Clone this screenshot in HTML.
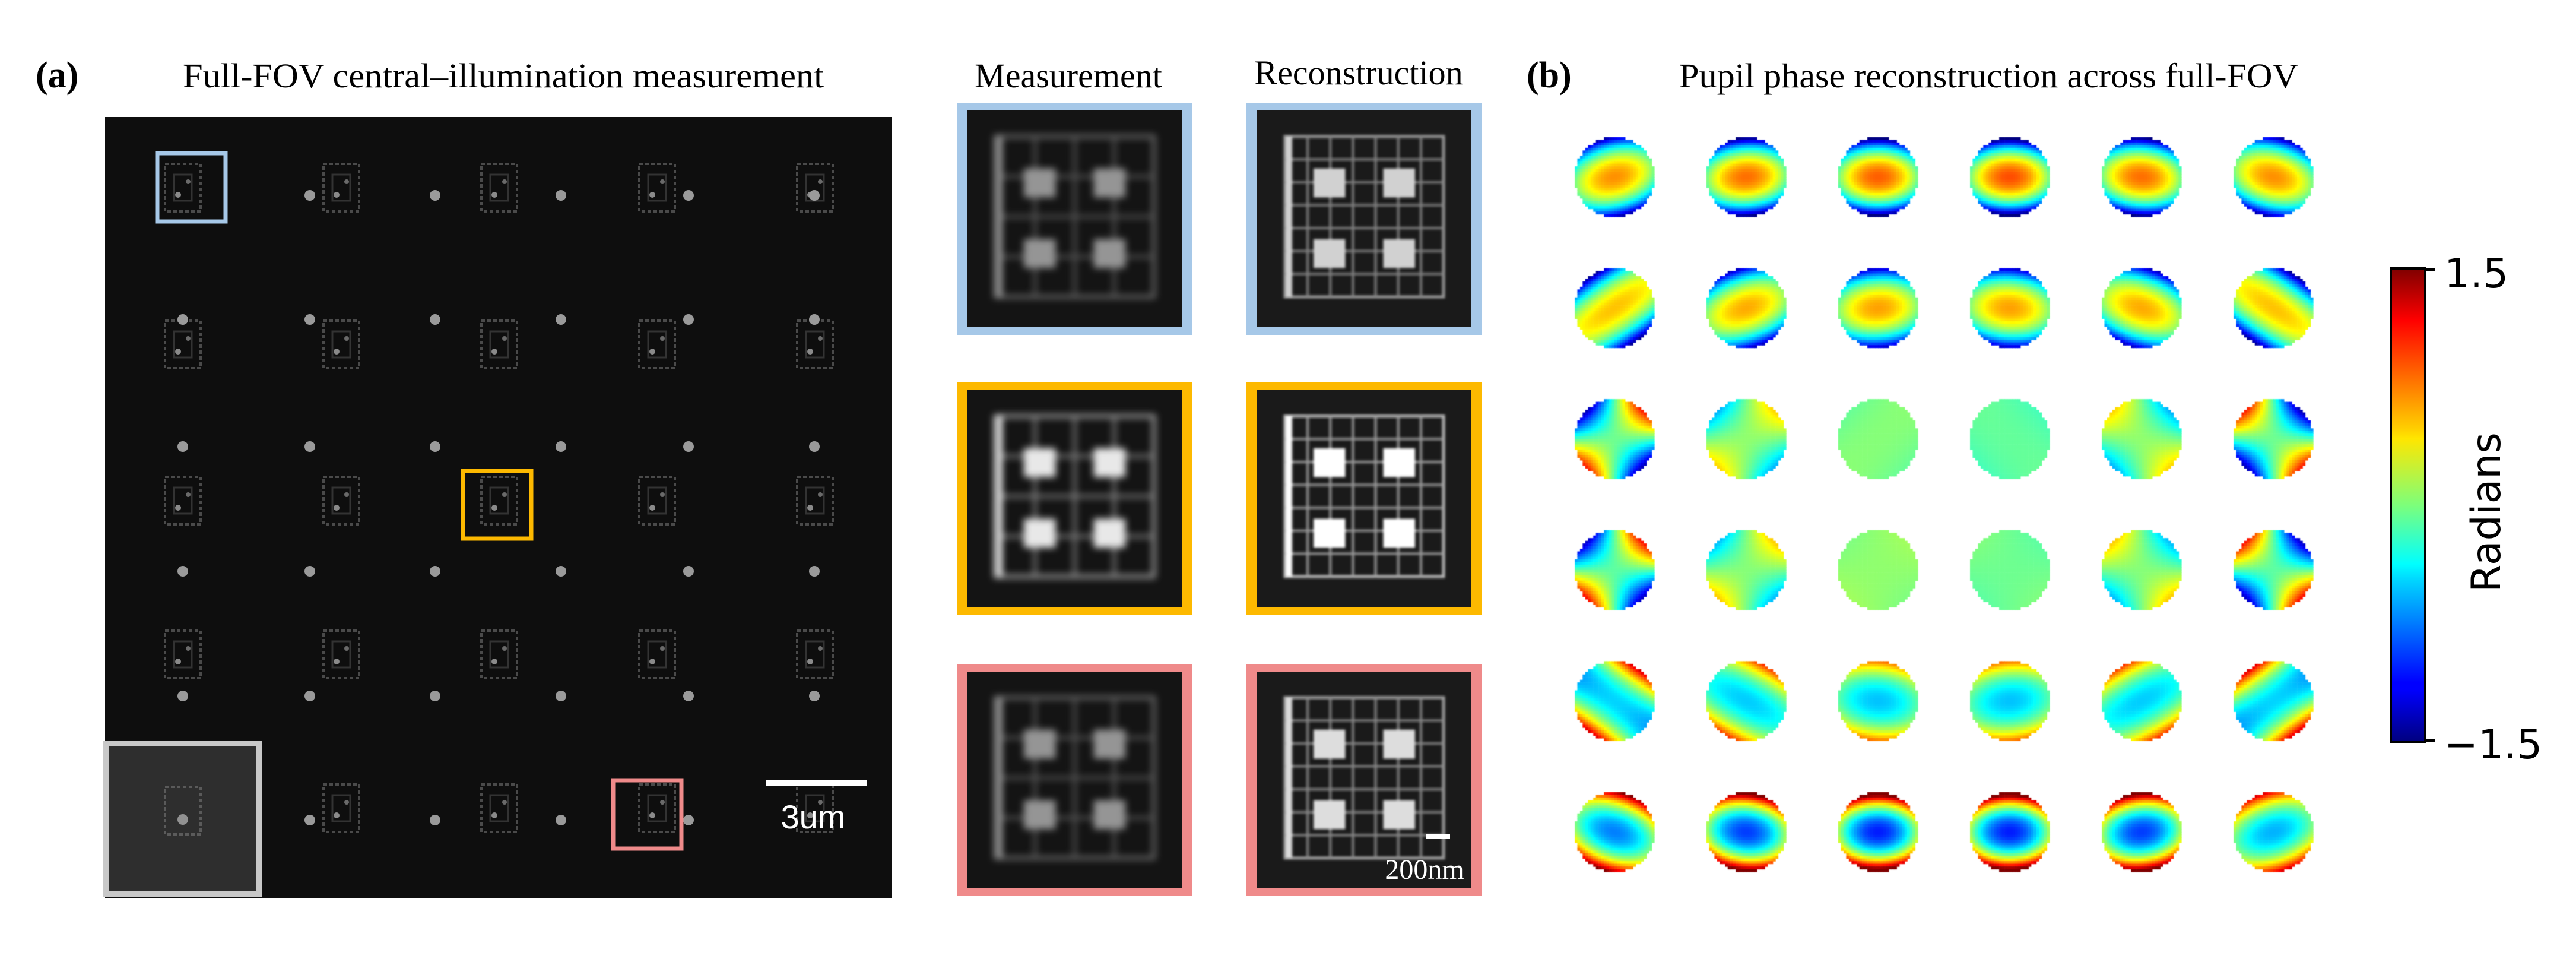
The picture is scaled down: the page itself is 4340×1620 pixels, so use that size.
<!DOCTYPE html>
<html><head><meta charset="utf-8">
<style>
html,body{margin:0;padding:0;background:#fff;}
#root{position:relative;width:4340px;height:1620px;overflow:hidden;}
svg text{font-family:"Liberation Serif",serif;}
</style></head>
<body>
<div id="root">
<svg id="svg" width="4340" height="1620" viewBox="0 0 4340 1620" style="position:absolute;left:0;top:0">
  <defs>
    <filter id="blurM" x="-20%" y="-20%" width="140%" height="140%"><feGaussianBlur stdDeviation="6"/></filter>
    <filter id="blurR" x="-20%" y="-20%" width="140%" height="140%"><feGaussianBlur stdDeviation="2"/></filter>
    <linearGradient id="jet" x1="0" y1="1" x2="0" y2="0">
      <stop offset="0" stop-color="#00007f"/><stop offset="0.11" stop-color="#0000ff"/>
      <stop offset="0.125" stop-color="#0000ff"/><stop offset="0.34" stop-color="#00d4ff"/>
      <stop offset="0.375" stop-color="#00ffff"/><stop offset="0.5" stop-color="#7dff7a"/>
      <stop offset="0.64" stop-color="#ffe600"/><stop offset="0.66" stop-color="#ffd000"/>
      <stop offset="0.89" stop-color="#ff0000"/><stop offset="1" stop-color="#7f0000"/>
    </linearGradient>
  </defs>
  <text x="60" y="147" font-size="62" font-weight="bold">(a)</text>
  <text x="308" y="147" font-size="58" textLength="1080" lengthAdjust="spacingAndGlyphs">Full-FOV central–illumination measurement</text>
  <text x="1800" y="147" font-size="58" text-anchor="middle">Measurement</text>
  <text x="2289" y="142" font-size="58" text-anchor="middle">Reconstruction</text>
  <text x="2572" y="147" font-size="62" font-weight="bold">(b)</text>
  <text x="2829" y="147" font-size="58" textLength="1043" lengthAdjust="spacingAndGlyphs">Pupil phase reconstruction across full-FOV</text>

  <rect x="177" y="197" width="1326" height="1316" fill="#0e0e0e"/>
  <g id="fov"></g>
  <rect x="178" y="1252" width="258" height="254" fill="#2e2e2e" stroke="#c8c8c8" stroke-width="10"/>
  <g id="inset"></g>
  <rect x="265" y="258" width="115" height="115" fill="none" stroke="#a6c8e8" stroke-width="7"/>
  <rect x="780" y="793" width="115" height="114" fill="none" stroke="#fdb900" stroke-width="7"/>
  <rect x="1033" y="1314" width="115" height="115" fill="none" stroke="#ef8a8a" stroke-width="7"/>
  <rect x="1290" y="1313" width="170" height="10" fill="#fff"/>
  <text x="1370" y="1395" font-size="56" fill="#fff" text-anchor="middle" style="font-family:'Liberation Sans',sans-serif">3um</text>

  <g id="crops"></g>

  <rect x="4028" y="452" width="58" height="797" fill="url(#jet)" stroke="#000" stroke-width="4"/>
  <line x1="4086" y1="454" x2="4102" y2="454" stroke="#000" stroke-width="4"/>
  <line x1="4086" y1="1247" x2="4102" y2="1247" stroke="#000" stroke-width="4"/>
  <text x="4118" y="484" font-size="68" style="font-family:'DejaVu Sans',sans-serif">1.5</text>
  <text x="4118" y="1277" font-size="68" style="font-family:'DejaVu Sans',sans-serif">−1.5</text>
  <text transform="translate(4212,863) rotate(-90)" font-size="68" text-anchor="middle" style="font-family:'DejaVu Sans',sans-serif">Radians</text>
</svg>
<canvas id="pupils" width="4340" height="1620" style="position:absolute;left:0;top:0;pointer-events:none"></canvas>
</div>
<script>
// Pupil phase data: Zernike-like coefficients per pupil (rows top->bottom, cols left->right)
const defocus = [
  [0.7,0.8,0.85,0.9,0.8,0.7],
  [0.55,0.62,0.65,0.65,0.62,0.55],
  [0.05,0.05,0.02,0.02,0.05,0.05],
  [0.0,0.02,0.0,0.0,0.02,0.0],
  [-0.4,-0.42,-0.45,-0.45,-0.42,-0.4],
  [-0.75,-0.95,-1.05,-1.05,-0.95,-0.6]
];
const astig0 = [
  [0.6,0.75,0.8,0.85,0.75,0.6],
  [0.35,0.55,0.65,0.65,0.55,0.35],
  [0,0,0,0,0,0],
  [0,0,0,0,0,0],
  [-0.3,-0.35,-0.45,-0.45,-0.35,-0.3],
  [-0.6,-0.8,-0.9,-0.9,-0.8,-0.5]
];
const astig45 = [
  [0.35,0.12,0,0,-0.12,-0.35],
  [0.85,0.45,0.1,-0.1,-0.45,-0.85],
  [1.2,0.55,0.05,-0.05,-0.55,-1.2],
  [1.2,0.55,0.05,-0.05,-0.55,-1.2],
  [0.9,0.55,0.1,-0.1,-0.55,-0.9],
  [0.5,0.2,0,0,-0.2,-0.4]
];
const pupilOffset = [
  [0,0,0,0,0,0],
  [0,0,0,0,0,0],
  [-0.1,0,0,-0.1,0,-0.1],
  [-0.1,0,0.05,-0.05,0,-0.1],
  [-0.1,-0.1,-0.1,-0.1,-0.1,-0.1],
  [0,0,0,0,0,0]
];
const colorRange = [-1.5, 1.5];

// layout
const pupilColX = c => 2720 + c*222;
const pupilRowY = r => 298 + r*220.6;
const pupilR = 67;
const cells = 30;

function jet(t){
  t = Math.max(0,Math.min(1,t));
  const cl = v=>Math.max(0,Math.min(1,v));
  return [cl(1.5-Math.abs(4*t-3)),cl(1.5-Math.abs(4*t-2)),cl(1.5-Math.abs(4*t-1))].map(v=>Math.round(v*255));
}
const scaleC = v => (v-colorRange[0])/(colorRange[1]-colorRange[0]);

const ctx = document.getElementById('pupils').getContext('2d');
for(let r=0;r<defocus.length;r++){
  for(let c=0;c<defocus[r].length;c++){
    const cx=pupilColX(c), cy=pupilRowY(r), cs=2*pupilR/cells;
    for(let i=0;i<cells;i++)for(let j=0;j<cells;j++){
      const x=(i+0.5)/cells*2-1, y=1-(j+0.5)/cells*2;
      const rr=x*x+y*y; if(rr>1) continue;
      const th=Math.atan2(y,x);
      const ph=pupilOffset[r][c]+defocus[r][c]*(1-2*rr)+astig0[r][c]*rr*Math.cos(2*th)+astig45[r][c]*rr*Math.sin(2*th);
      const col=jet(scaleC(ph));
      ctx.fillStyle=`rgb(${col[0]},${col[1]},${col[2]})`;
      ctx.fillRect(cx-pupilR+i*cs, cy-pupilR+j*cs, cs+0.6, cs+0.6);
    }
  }
}

// Left full-FOV image: target and dot positions
const NS='http://www.w3.org/2000/svg';
const targetXs=[308,575,841,1107,1373];
const targetYs=[316,580,843,1102,1361];
const dotXs=[308,522,733,945,1160,1372];
const dotRowYs=[329,538,752,962,1172,1381];
function mk(tag,attrs,parent){const e=document.createElementNS(NS,tag);for(const k in attrs)e.setAttribute(k,attrs[k]);parent.appendChild(e);return e;}
const fov=document.getElementById('fov');
targetYs.forEach((ty,ri)=>targetXs.forEach((tx,ci)=>{
  if(ri===4&&ci===0) return;
  const g=mk('g',{},fov);
  
  
  mk('rect',{x:tx-30,y:ty-40,width:60,height:80,fill:'none',stroke:'#4a4a4a','stroke-width':4,'stroke-dasharray':'6 4'},g);
  mk('rect',{x:tx-15,y:ty-22,width:30,height:44,fill:'none',stroke:'#333','stroke-width':3},g);
  mk('circle',{cx:tx-8,cy:ty+12,r:5,fill:'#8a8a8a'},g);
  mk('circle',{cx:tx+9,cy:ty-10,r:4,fill:'#6a6a6a'},g);
}));
dotRowYs.forEach((dy,ri)=>dotXs.forEach((dx,ci)=>{
  if(ri===0&&ci===0) return;
  if(ri===5&&(ci===0||ci===5)) return;
  const d=mk('ellipse',{cx:dx,cy:dy,rx:9,ry:9,fill:'#9a9a9a'},fov);
  
  
}));
const inset=document.getElementById('inset');
const it=mk('g',{opacity:0.8},inset);


mk('rect',{x:278,y:1325,width:60,height:80,fill:'none',stroke:'#666','stroke-width':4,'stroke-dasharray':'6 4'},it);
mk('circle',{cx:308,cy:1380,r:9,fill:'#aaa'},it);

// Crops
const cropColX=[1612,2100];
const cropRowY=[173,644,1118];
const cropColors=['#a6c8e8','#fdb900','#ef8a8a'];
const cropBrightness=[[0.55,0.8],[0.9,1],[0.55,0.85]];
const crops=document.getElementById('crops');
cropRowY.forEach((cy,ri)=>cropColX.forEach((cx,ci)=>{
  const g=mk('g',{},crops);
  
  
  mk('rect',{x:cx,y:cy,width:397,height:391,fill:cropColors[ri]},g);
  const ix=cx+18, iy=cy+13, iw=361, ih=365;
  mk('rect',{x:ix,y:iy,width:iw,height:ih,fill:ci===0?'#141414':'#1a1a1a'},g);
  const p=mk('g',{filter:ci===0?'url(#blurM)':'url(#blurR)',opacity:cropBrightness[ri][ci]},g);
  const px=ix+iw*0.13, py=iy+ih*0.12, pw=iw*0.74, ph=ih*0.74;
  const sw=ci===0?6:5;
  mk('rect',{x:px,y:py,width:pw,height:ph,fill:'none',stroke:'#bbb','stroke-width':sw},p);
  const lines = ci===0?3:6;
  for(let k=1;k<=lines;k++){
    mk('line',{x1:px,y1:py+ph*k/(lines+1),x2:px+pw,y2:py+ph*k/(lines+1),stroke:'#999','stroke-width':sw-1},p);
    mk('line',{x1:px+pw*k/(lines+1),y1:py,x2:px+pw*k/(lines+1),y2:py+ph,stroke:'#999','stroke-width':sw-1},p);
  }
  [[0.18,0.2],[0.62,0.2],[0.18,0.64],[0.62,0.64]].forEach(([a,b])=>{
    mk('rect',{x:px+pw*a,y:py+ph*b,width:pw*0.2,height:ph*0.18,fill:'#fff'},p);
  });
  mk('rect',{x:px+2,y:py,width:10,height:ph,fill:'#fff'},p);
}));
const sb=mk('rect',{x:2403,y:1405,width:40,height:8,fill:'#fff'},crops);


const st=mk('text',{x:2400,y:1480,'font-size':48,fill:'#fff','text-anchor':'middle'},crops);
st.textContent='200nm';


</script>
</body></html>
